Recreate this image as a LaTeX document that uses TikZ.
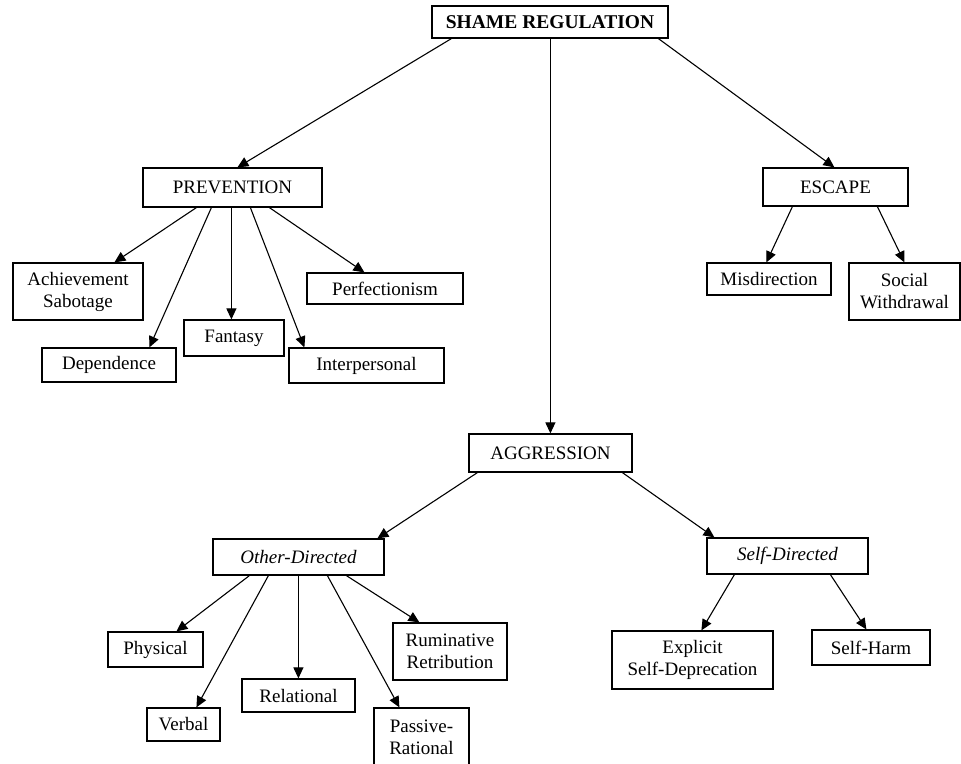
\documentclass[tikz,border=0pt]{standalone}
\usepackage{fontspec}
\setmainfont{Liberation Serif}
\usetikzlibrary{arrows.meta,calc}
\begin{document}
\begin{tikzpicture}[x=1pt,y=-1pt,
  box/.style={draw, line width=1.2pt, inner sep=0pt, align=center,
    font=\fontsize{19}{22}\selectfont},
  sz/.style 2 args={minimum width=#1pt, minimum height=#2pt},
  arr/.style={line width=1.1pt, -{Triangle[length=11pt,width=10pt]}}]
\useasboundingbox (0,0) rectangle (961,763);
% top
\node[box, sz={236}{32}, font=\fontsize{19.5}{22}\selectfont\bfseries] (sr) at (550,22) {SHAME REGULATION};
% prevention
\node[box, sz={179}{39}] (prev) at (232.5,187.5) {PREVENTION};
\node[box, sz={130}{57}] (ach) at (78,291.5) {Achievement\\Sabotage};
\node[box, sz={134}{34}] (dep) at (109,365) {Dependence};
\node[box, sz={100}{36}] (fan) at (234,338) {Fantasy};
\node[box, sz={155}{35}] (int) at (366.5,365.5) {Interpersonal};
\node[box, sz={156}{31}] (perf) at (385,288.5) {Perfectionism};
% escape
\node[box, sz={145}{38}] (esc) at (835.5,187) {ESCAPE};
\node[box, sz={124}{32}] (mis) at (769,279) {Misdirection};
\node[box, sz={111}{57}] (soc) at (904.5,291.5) {Social\\Withdrawal};
% aggression
\node[box, sz={163}{38}] (agg) at (550.5,453) {AGGRESSION};
\node[box, sz={171}{36}] (od) at (298.5,557) {\itshape Other-Directed};
\node[box, sz={95}{35}] (phy) at (155.5,649.5) {Physical};
\node[box, sz={73}{33}] (ver) at (183.5,724.5) {Verbal};
\node[box, sz={113}{33}] (rel) at (298.5,695.5) {Relational};
\node[box, sz={95}{58}] (pas) at (421.5,737) {Passive-\\Rational};
\node[box, sz={114}{57}] (rum) at (450,651.5) {Ruminative\\Retribution};
\node[box, sz={161}{36}] (sd) at (787.5,556) {\itshape Self-Directed};
\node[box, sz={161}{58}] (exp) at (692.5,660) {Explicit\\Self-Deprecation};
\node[box, sz={118}{35}] (sh) at (871,647.5) {Self-Harm};
% arrows from top
\draw[arr] ($(sr.south west)+(20,0)$) -- ($(prev.north west)+(95,0)$);
\draw[arr] ($(sr.south west)+(119,0)$) -- ($(agg.north west)+(82,0)$);
\draw[arr] ($(sr.south west)+(227,0)$) -- ($(esc.north west)+(72,0)$);
% prevention children
\draw[arr] ($(prev.south west)+(54,0)$) -- ($(ach.north west)+(102,0)$);
\draw[arr] ($(prev.south west)+(69,0)$) -- ($(dep.north west)+(108,0)$);
\draw[arr] ($(prev.south west)+(89,0)$) -- ($(fan.north west)+(48,0)$);
\draw[arr] ($(prev.south west)+(108,0)$) -- ($(int.north west)+(16,0)$);
\draw[arr] ($(prev.south west)+(127,0)$) -- ($(perf.north west)+(58,0)$);
% escape children
\draw[arr] ($(esc.south west)+(30,0)$) -- ($(mis.north west)+(60,0)$);
\draw[arr] ($(esc.south west)+(115,0)$) -- ($(soc.north west)+(56,0)$);
% aggression children
\draw[arr] ($(agg.south west)+(9,0)$) -- ($(od.north west)+(165,0)$);
\draw[arr] ($(agg.south west)+(154,0)$) -- ($(sd.north west)+(8,0)$);
% other-directed children
\draw[arr] ($(od.south west)+(37,0)$) -- ($(phy.north west)+(69,0)$);
\draw[arr] ($(od.south west)+(56,0)$) -- ($(ver.north west)+(50,0)$);
\draw[arr] ($(od.south west)+(86,0)$) -- ($(rel.north west)+(57,0)$);
\draw[arr] ($(od.south west)+(115,0)$) -- ($(pas.north west)+(26,0)$);
\draw[arr] ($(od.south west)+(134,0)$) -- ($(rum.north west)+(27,0)$);
% self-directed children
\draw[arr] ($(sd.south west)+(28,0)$) -- ($(exp.north west)+(90,0)$);
\draw[arr] ($(sd.south west)+(124,0)$) -- ($(sh.north west)+(55,0)$);
\end{tikzpicture}
\end{document}
